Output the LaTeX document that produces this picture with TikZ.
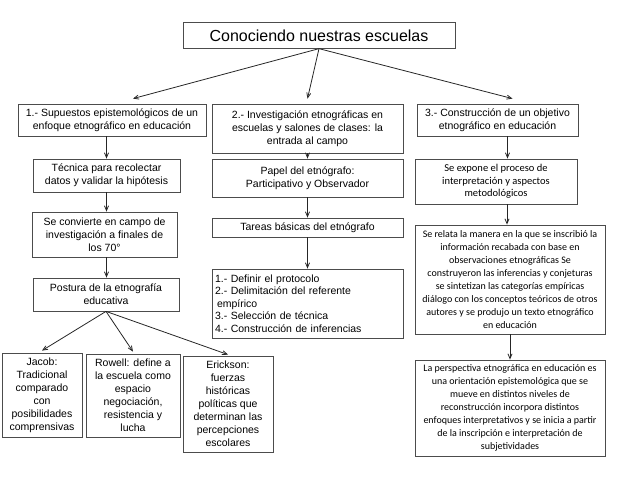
\documentclass[tikz,border=0pt]{standalone}
\usepackage{fontspec}
\setmainfont{Liberation Sans}
\newfontfamily\calib{Carlito}
\usetikzlibrary{arrows,positioning}
\tikzset{caja/.style={draw=black!70,line width=0.8pt,align=center,inner sep=2pt,
  font=\fontsize{10.5}{13}\selectfont},
  cajac/.style={caja,font=\calib\fontsize{10}{12.9}\selectfont},
  flecha/.style={->,>=angle 45,draw=black!85,line width=0.8pt}}

\begin{document}
\begin{tikzpicture}[x=1pt,y=-1pt]
\useasboundingbox (0,0) rectangle (638,478);
\node[caja,minimum width=272pt,minimum height=25.5pt,font=\fontsize{16}{18}\selectfont] (titulo) at (319,35.5) {Conociendo nuestras escuelas};
% primer nivel
\node[caja,minimum width=188pt,minimum height=32pt] (sup) at (112,120) {1.- Supuestos epistemológicos de un\\enfoque etnográfico en educación};
\node[caja,minimum width=191pt,minimum height=49pt] (inv) at (307.5,128.5) {2.- Investigación etnográficas en\\escuelas y salones de clases: la\\entrada al campo};
\node[caja,minimum width=161pt,minimum height=32pt] (cons) at (497.5,120) {3.- Construcción de un objetivo\\etnográfico en educación};
% columna izquierda
\node[caja,minimum width=147pt,minimum height=33pt] (tec) at (106.5,175.5) {Técnica para recolectar\\datos y validar la hipótesis};
\node[caja,minimum width=145pt,minimum height=45pt] (conv) at (104.5,234.5) {Se convierte en campo de\\investigación a finales de\\los 70°};
\node[caja,minimum width=146pt,minimum height=33pt] (post) at (106,294.5) {Postura de la etnografía\\educativa};
\node[caja,minimum width=80pt,minimum height=84pt] (jacob) at (42,395) {Jacob:\\Tradicional\\comparado\\con\\posibilidades\\comprensivas};
\node[caja,minimum width=94pt,minimum height=83pt] (rowell) at (133,395.5) {Rowell: define a\\la escuela como\\espacio\\negociación,\\resistencia y\\lucha};
\node[caja,minimum width=90pt,minimum height=96pt] (erick) at (228,404) {Erickson:\\fuerzas\\históricas\\políticas que\\determinan las\\percepciones\\escolares};
% columna central
\node[caja,minimum width=191pt,minimum height=38pt] (papel) at (307.5,178) {Papel del etnógrafo:\\Participativo y Observador};
\node[caja,minimum width=191pt,minimum height=19pt] (tareas) at (307.5,227.5) {Tareas básicas del etnógrafo};
\node[caja,align=left,text width=185pt,inner xsep=3pt,minimum height=69pt,font=\fontsize{10.5}{12.6}\selectfont] (lista) at (307.5,303.5) {1.- Definir el protocolo\\2.- Delimitación del referente\\\hspace*{2pt}empírico\\3.- Selección de técnica\\4.- Construcción de inferencias};
% columna derecha
\node[cajac,minimum width=162pt,minimum height=45pt,font=\calib\fontsize{10.5}{12.5}\selectfont] (expone) at (496,181.5) {Se expone el proceso de\\interpretación y aspectos\\metodológicos};
\node[cajac,minimum width=190pt,minimum height=109pt] (relata) at (510,279.5) {Se relata la manera en la que se inscribió la\\información recabada con base en\\observaciones etnográficas Se\\construyeron las inferencias y conjeturas\\se sintetizan las categorías empíricas\\diálogo con los conceptos teóricos de otros\\autores y se produjo un texto etnográfico\\en educación};
\node[cajac,minimum width=190pt,minimum height=96pt] (persp) at (510,408) {La perspectiva etnográfica en educación es\\una orientación epistemológica que se\\mueve en distintos niveles de\\reconstrucción incorpora distintos\\enfoques interpretativos y se inicia a partir\\de la inscripción e interpretación de\\subjetividades};
% flechas
\draw[flecha] (titulo.south) -- ([xshift=21pt,yshift=5pt]sup.north);
\draw[flecha] (titulo.south) -- ([yshift=5pt]inv.north);
\draw[flecha] (titulo.south) -- ([xshift=15pt,yshift=5pt]cons.north);
\draw[flecha] (sup.south -| tec.north) -- (tec.north);
\draw[flecha] (tec.south) -- (tec.south |- conv.north);
\draw[flecha] (tec.south |- conv.south) -- (tec.south |- post.north);
\draw[flecha] (post.south) -- ([yshift=2pt]jacob.north);
\draw[flecha] (post.south) -- ([yshift=2pt]rowell.north);
\draw[flecha] (post.south) -- ([yshift=1pt]erick.north);
\draw[flecha] (inv.south) -- (papel.north);
\draw[flecha] (papel.south) -- (tareas.north);
\draw[flecha] (tareas.south) -- (lista.north);
\draw[flecha] ([xshift=10pt]cons.south) -- ([xshift=10pt]cons.south |- expone.north);
\draw[flecha] ([xshift=11pt]expone.south) -- ([xshift=11pt]expone.south |- relata.north);
\draw[flecha] (relata.south) -- (persp.north);
\end{tikzpicture}
\end{document}
